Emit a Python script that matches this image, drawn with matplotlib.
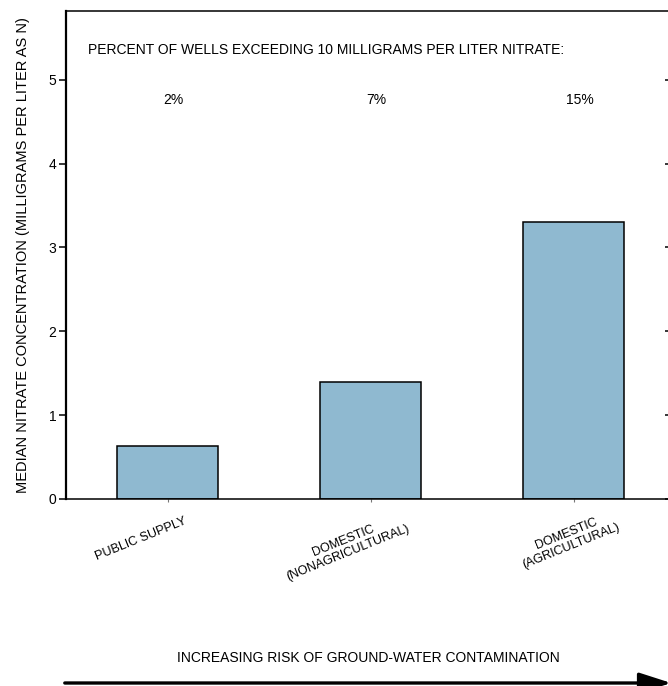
import matplotlib
matplotlib.use('Agg')
import matplotlib.pyplot as plt

plt.rcParams['font.family'] = ['Liberation Sans', 'DejaVu Sans']

# well types and median nitrate (mg/L as N)
categories = ['PUBLIC SUPPLY', 'DOMESTIC\n(NONAGRICULTURAL)', 'DOMESTIC\n(AGRICULTURAL)']
median_nitrate = [0.63, 1.4, 3.3]
pct_exceeding = ['2%', '7%', '15%']
yticks = [0, 1, 2, 3, 4, 5]

W, H = 668, 686
fig = plt.figure(figsize=(W / 100, H / 100), dpi=100)
ax = fig.add_axes([66 / W, (H - 499) / H, (671 - 66) / W, (499 - 11) / H])

x = list(range(len(categories)))
ax.bar(x, median_nitrate, width=0.5, color='#8fb9d0', edgecolor='black', linewidth=1.1)

ax.set_xlim(-0.5, 2.48)
ax.set_ylim(0, 5.82)
ax.set_yticks(yticks)
ax.set_xticks(x)
ax.set_xticklabels([])
ax.tick_params(axis='y', direction='out', length=5, width=1.1, labelsize=10, pad=2)
ax.tick_params(axis='x', direction='out', length=2, width=0.8, color='#777777')
ax.tick_params(axis='y', which='both', right=True, labelright=False)
# right-side ticks point into the plot
for t in ax.yaxis.get_ticklines()[1::2]:
    t.set_marker(0)
    t.set_markersize(4)

for s in ax.spines.values():
    s.set_linewidth(1.1)
ax.spines['left'].set_linewidth(1.6)

ax.set_ylabel('MEDIAN NITRATE CONCENTRATION (MILLIGRAMS PER LITER AS N)', fontsize=10.5, labelpad=13)

# percent of wells over 10 mg/L
ax.text(-0.39, 5.36, 'PERCENT OF WELLS EXCEEDING 10 MILLIGRAMS PER LITER NITRATE:',
        fontsize=10, ha='left', va='center')
for i, p in enumerate(pct_exceeding):
    ax.text(i + 0.03, 4.76, p, fontsize=10, ha='center', va='center')

# rotated category labels under the bars
offsets = [(-27, -40), (-25, -48), (-5, -41)]
for i, (lab, (dx, dy)) in enumerate(zip(categories, offsets)):
    ax.annotate(lab, xy=(i, 0), xytext=(dx * 0.72, dy * 0.72), textcoords='offset points',
                rotation=22, ha='center', va='center', multialignment='center',
                fontsize=9, linespacing=1.05, annotation_clip=False)

fig.text(368 / W, 1 - 658 / H, 'INCREASING RISK OF GROUND-WATER CONTAMINATION',
         fontsize=10, ha='center', va='center')
fig.add_artist(matplotlib.patches.FancyArrowPatch(
    (62 / W, 1 - 683 / H), (674 / W, 1 - 683 / H), transform=fig.transFigure,
    arrowstyle='-|>,head_length=1.4,head_width=0.45', mutation_scale=14,
    color='black', linewidth=2.4))

fig.savefig('out.png', dpi=100)
